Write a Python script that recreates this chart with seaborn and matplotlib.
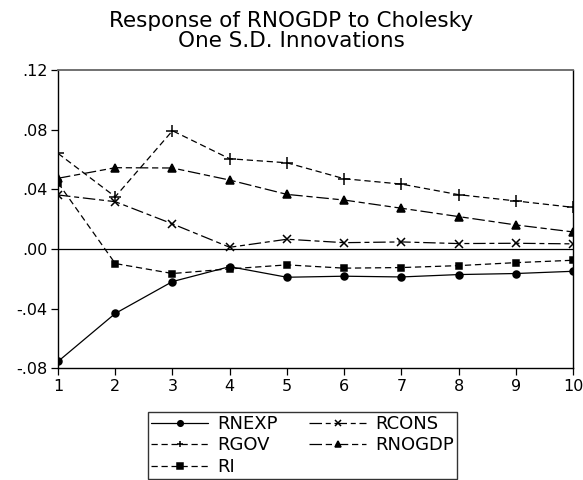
import matplotlib
matplotlib.use("Agg")
import matplotlib.pyplot as plt
import seaborn as sns
import numpy as np

sns.set_style("white")
plt.rcParams['font.family'] = ['DejaVu Sans']
plt.rcParams['text.color'] = 'black'

periods = [1, 2, 3, 4, 5, 6, 7, 8, 9, 10]
rnexp = [-0.0755, -0.0433, -0.0219, -0.0119, -0.0190, -0.0183, -0.0188, -0.0172, -0.0165, -0.0150]
rcons = [0.0362, 0.0317, 0.0168, 0.0011, 0.0065, 0.0042, 0.0047, 0.0036, 0.0038, 0.0034]
rgov = [0.0641, 0.0350, 0.0793, 0.0605, 0.0578, 0.0471, 0.0435, 0.0364, 0.0322, 0.0279]
rnogdp = [0.0474, 0.0545, 0.0543, 0.0462, 0.0366, 0.0328, 0.0273, 0.0217, 0.0161, 0.0114]
ri = [0.0444, -0.0098, -0.0165, -0.0134, -0.0107, -0.0129, -0.0125, -0.0112, -0.0092, -0.0076]

yticks = [-0.08, -0.04, 0.00, 0.04, 0.08, 0.12]
ytick_labels = ["-.08", "-.04", ".00", ".04", ".08", ".12"]
title = "Response of RNOGDP to Cholesky\nOne S.D. Innovations"

fig = plt.figure(figsize=(5.83, 4.80), dpi=100)
ax = fig.add_axes([0.0995, 0.233, 0.8835, 0.621])

series = [
    ("RNEXP", rnexp, "o", "-", 5),
    ("RCONS", rcons, "x", (0, (10, 3, 4, 3)), 6),
    ("RGOV", rgov, "+", (0, (5, 3)), 8),
    ("RNOGDP", rnogdp, "^", (0, (10, 3, 5, 3)), 6),
    ("RI", ri, "s", (0, (5, 3)), 5),
]
handles = {}
for name, vals, mk, ls, ms in series:
    sns.lineplot(x=periods, y=vals, ax=ax, color="black", marker=mk,
                 linestyle=ls, linewidth=0.9, markersize=ms,
                 markeredgecolor="black", markerfacecolor="black",
                 markeredgewidth=1.1, label=name, legend=False)
    handles[name] = ax.lines[-1]

ax.axhline(0, color="black", linewidth=0.9, zorder=0)

ax.set_xlim(1, 10)
ax.set_ylim(-0.08, 0.12)
ax.set_xticks(periods)
ax.set_xticklabels([str(p) for p in periods])
ax.set_yticks(yticks)
ax.set_yticklabels(ytick_labels)
ax.tick_params(axis="both", direction="out", length=5, width=0.9,
               labelsize=11.5, colors="black", left=True, bottom=True, pad=2.5)
for s in ["left", "bottom", "right"]:
    ax.spines[s].set_color("black")
    ax.spines[s].set_linewidth(1.0)
ax.spines["top"].set_color("#666666")
ax.spines["top"].set_linewidth(1.3)
ax.set_xlabel("")
ax.set_ylabel("")

fig.text(0.5, 0.978, title, ha="center", va="top", fontsize=15.5,
         linespacing=1.0, color="black")

order = ["RNEXP", "RGOV", "RI", "RCONS", "RNOGDP"]
leg = fig.legend([handles[n] for n in order], order, ncol=2,
                 loc="upper left", bbox_to_anchor=(148 / 583, 1 - 412 / 480),
                 frameon=True, fancybox=False, edgecolor="black",
                 fontsize=13, handlelength=3.2, columnspacing=1.7,
                 labelspacing=0.2, borderpad=0.15, handletextpad=0.5,
                 borderaxespad=0, handleheight=0.6)
leg.get_frame().set_linewidth(1.0)
for t in leg.get_texts():
    t.set_color("black")
for h in leg.legend_handles:
    h.set_markersize(4)

fig.savefig("out.png", dpi=100)
